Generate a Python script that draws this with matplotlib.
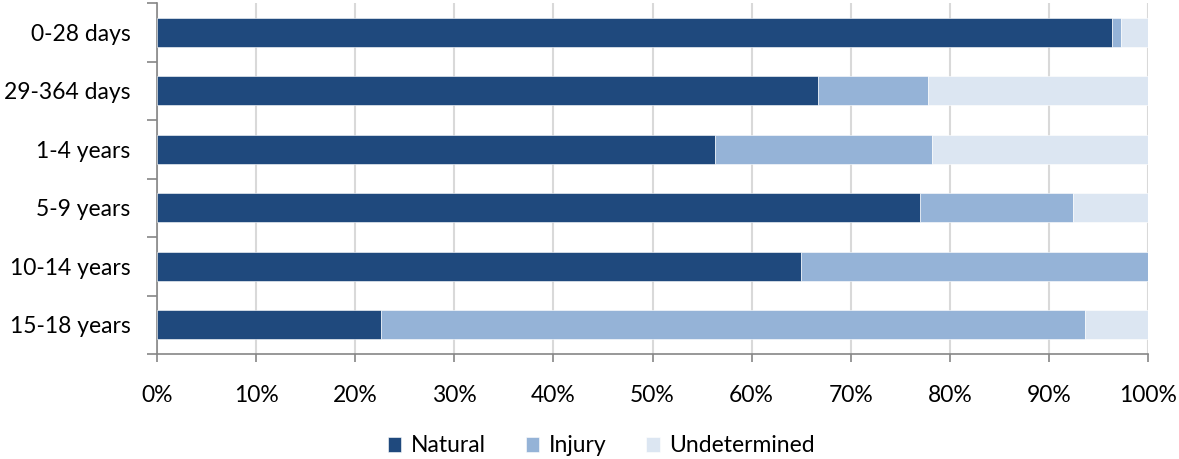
import matplotlib.pyplot as plt
from matplotlib.ticker import PercentFormatter

plt.rcParams['font.family'] = ['Lato', 'DejaVu Sans']

ages = ['0-28 days', '29-364 days', '1-4 years', '5-9 years', '10-14 years', '15-18 years']
natural = [96.4, 66.7, 56.3, 77.0, 65.0, 22.6]
injury = [0.9, 11.1, 21.9, 15.4, 35.0, 71.0]
undetermined = [2.7, 22.2, 21.8, 7.6, 0.0, 6.4]

series = [('Natural', natural, '#1F497D'),
          ('Injury', injury, '#95B3D7'),
          ('Undetermined', undetermined, '#DCE6F2')]

fig = plt.figure(figsize=(11.79, 4.59), dpi=100)
ax = fig.add_axes([157/1179, 1 - 354/459, (1148 - 157)/1179, 351/459])

y = list(range(len(ages)))
left = [0.0] * len(ages)
for name, vals, col in series:
    ax.barh(y, vals, left=left, height=0.5, color=col, label=name,
            edgecolor='white', linewidth=0.4, zorder=3)
    left = [l + v for l, v in zip(left, vals)]

ax.set_xlim(0, 100)
ax.set_ylim(len(ages) - 0.5, -0.5)
ax.set_xticks(range(0, 101, 10))
ax.xaxis.set_major_formatter(PercentFormatter(decimals=0))
ax.set_yticks(y)
ax.set_yticklabels(ages)
ax.set_yticks([i - 0.5 for i in range(len(ages) + 1)], minor=True)

ax.grid(axis='x', color='#D9D9D9', linewidth=1.5, zorder=0)
for s in ['top', 'right']:
    ax.spines[s].set_visible(False)
for s in ['left', 'bottom']:
    ax.spines[s].set_color('#868686')
    ax.spines[s].set_linewidth(1.2)

ax.tick_params(axis='y', which='major', length=0, pad=19, labelsize=16.5)
ax.tick_params(axis='y', which='minor', length=7, color='#868686', width=1.2)
ax.tick_params(axis='x', length=6, color='#868686', width=1.2, pad=16, labelsize=16.5)

fig.legend(loc='center', bbox_to_anchor=(0.51, 1 - 446/459), ncol=3, frameon=False,
           fontsize=16.5, handlelength=0.6, handleheight=0.6, handletextpad=0.4,
           columnspacing=1.75)

fig.savefig('out.png', dpi=100)
